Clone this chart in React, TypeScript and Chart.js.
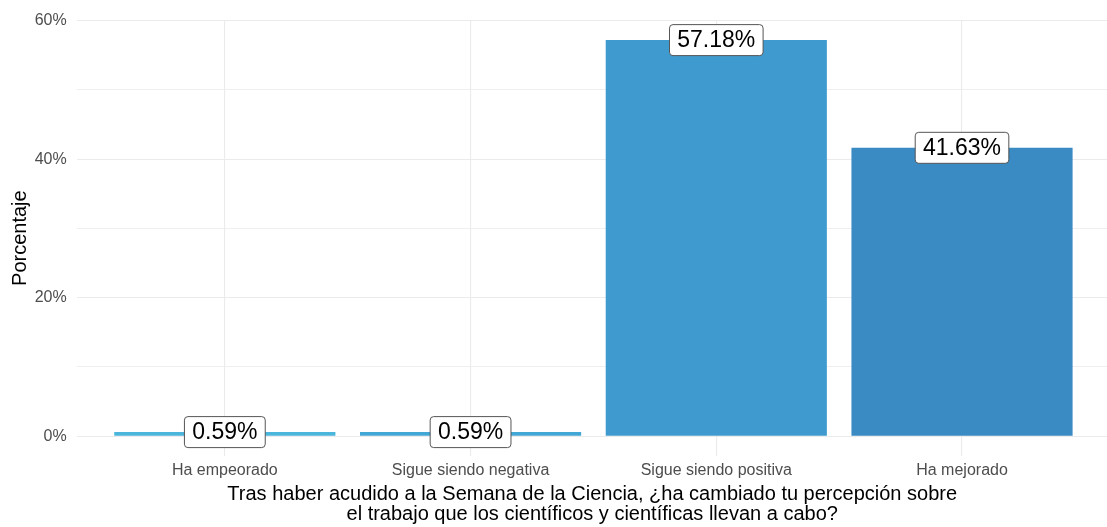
import React, { useEffect, useRef } from "react";
import { Chart, registerables } from "chart.js";

Chart.register(...registerables);

const categories = ["Ha empeorado", "Sigue siendo negativa", "Sigue siendo positiva", "Ha mejorado"];
const percentages = [0.59, 0.59, 57.18, 41.63];
const barColors = ["#4bb5dc", "#43a7d6", "#3f9bcf", "#3a8ac4"];
const yTickValues = [0, 10, 20, 30, 40, 50, 60];
const yLabelledTicks = [0, 20, 40, 60];
const xTitleLines = [
  "Tras haber acudido a la Semana de la Ciencia, ¿ha cambiado tu percepción sobre",
  "el trabajo que los científicos y científicas llevan a cabo?",
];
const yTitleText = "Porcentaje";

const FONT = "'Liberation Sans', Arial, Helvetica, sans-serif";

const labelPlugin = {
  id: "valueLabels",
  afterDatasetsDraw(chart: any) {
    const ctx = chart.ctx;
    const meta = chart.getDatasetMeta(0);
    ctx.save();
    ctx.font = `23px ${FONT}`;
    ctx.textAlign = "center";
    ctx.textBaseline = "middle";
    meta.data.forEach((el: any, i: number) => {
      const text = percentages[i].toFixed(2) + "%";
      const w = ctx.measureText(text).width + 15.6;
      const h = 31;
      const x = el.x;
      const y = el.y;
      const left = x - w / 2;
      const top = y - h / 2;
      const r = 3.5;
      ctx.beginPath();
      ctx.moveTo(left + r, top);
      ctx.lineTo(left + w - r, top);
      ctx.arcTo(left + w, top, left + w, top + r, r);
      ctx.lineTo(left + w, top + h - r);
      ctx.arcTo(left + w, top + h, left + w - r, top + h, r);
      ctx.lineTo(left + r, top + h);
      ctx.arcTo(left, top + h, left, top + h - r, r);
      ctx.lineTo(left, top + r);
      ctx.arcTo(left, top, left + r, top, r);
      ctx.closePath();
      ctx.fillStyle = "#ffffff";
      ctx.fill();
      ctx.strokeStyle = "#555555";
      ctx.lineWidth = 1;
      ctx.stroke();
      ctx.fillStyle = "#000000";
      ctx.fillText(text, x, y + 0.5);
    });
    ctx.restore();
  },
};

export default function App() {
  const canvasRef = useRef<HTMLCanvasElement | null>(null);

  useEffect(() => {
    if (!canvasRef.current) return;
    const chart = new Chart(canvasRef.current, {
      type: "bar",
      data: {
        datasets: [
          {
            data: percentages.map((v, i) => ({ x: i, y: v })),
            backgroundColor: barColors,
            borderWidth: 0,
            categoryPercentage: 1,
            barPercentage: 0.9,
          },
        ],
      },
      options: {
        animation: false,
        responsive: false,
        devicePixelRatio: 1,
        layout: { padding: { top: 17.7, left: 0, right: 0, bottom: 0 } },
        plugins: {
          legend: { display: false },
          tooltip: { enabled: false },
        },
        scales: {
          x: {
            type: "linear",
            offset: false,
            min: -0.6,
            max: 3.59,
            afterBuildTicks: (scale: any) => {
              scale.ticks = categories.map((_, i) => ({ value: i }));
            },
            afterFit: (scale: any) => {
              scale.height = 71;
            },
            ticks: {
              callback: (v: any) => categories[v] ?? "",
              color: "#4d4d4d",
              font: { family: FONT, size: 16 },
              padding: 5,
              maxRotation: 0,
              autoSkip: false,
            },
            grid: {
              color: "#ebebeb",
              lineWidth: 1.1,
              drawTicks: false,
              offset: false,
            },
            border: { display: false },
            title: {
              display: true,
              text: xTitleLines,
              color: "#000000",
              font: { family: FONT, size: 20, lineHeight: "20px" },
              padding: { top: 0, bottom: 2.5 },
            },
          },
          y: {
            type: "linear",
            min: -2.86,
            max: 60.04,
            afterBuildTicks: (scale: any) => {
              scale.ticks = yTickValues.map((v) => ({ value: v }));
            },
            afterFit: (scale: any) => {
              scale.width = 77.4;
            },
            ticks: {
              callback: (v: any) => (yLabelledTicks.includes(v) ? v + "%" : ""),
              color: "#4d4d4d",
              font: { family: FONT, size: 16 },
              padding: 10.7,
            },
            grid: {
              color: "#ebebeb",
              lineWidth: (c: any) => (c.tick && yLabelledTicks.includes(c.tick.value) ? 1.1 : 0.8),
              drawTicks: false,
            },
            border: { display: false },
            title: {
              display: true,
              text: yTitleText,
              color: "#000000",
              font: { family: FONT, size: 20 },
              padding: { top: 8.6, bottom: 0 },
            },
          },
        },
      },
      plugins: [labelPlugin],
    } as any);
    return () => chart.destroy();
  }, []);

  return (
    <div style={{ position: "fixed", left: 0, top: 0, width: 1107, height: 527, background: "#ffffff" }}>
      <canvas ref={canvasRef} width={1107} height={527} />
    </div>
  );
}
